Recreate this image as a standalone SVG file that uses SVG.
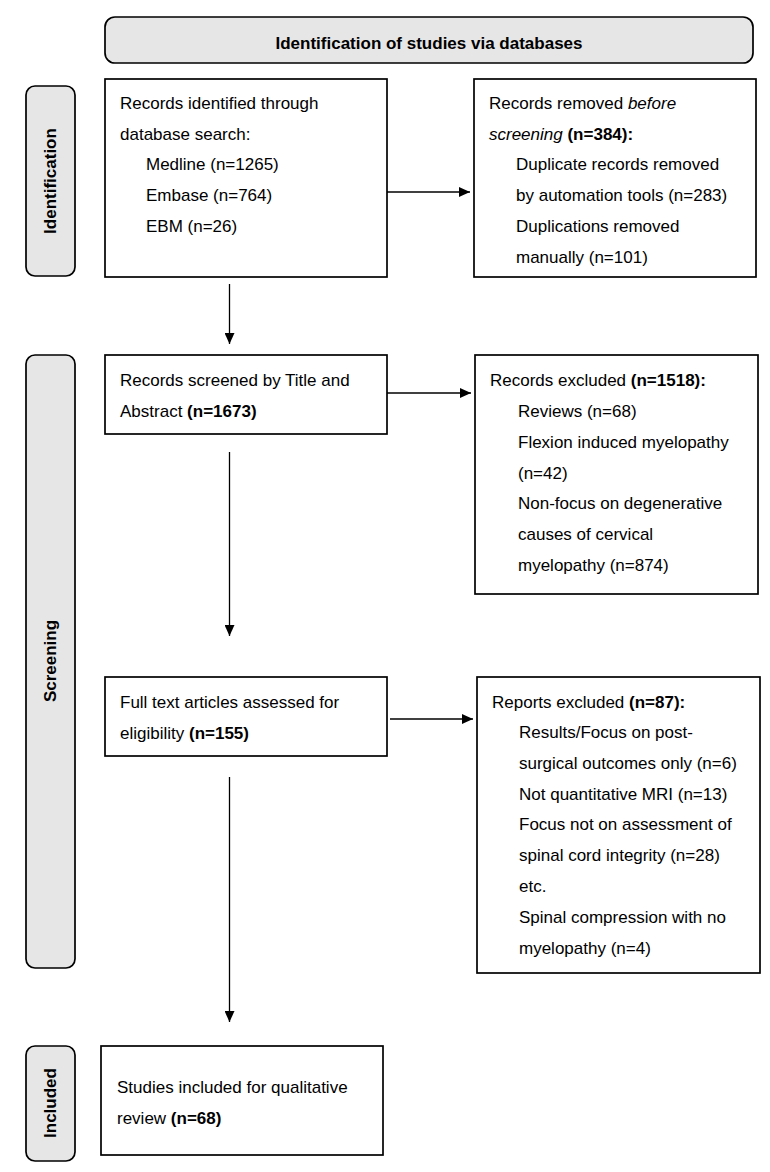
<svg xmlns="http://www.w3.org/2000/svg" width="770" height="1172" viewBox="0 0 770 1172">
<style>
  text { font-family: "Liberation Sans", Arial, sans-serif; font-size: 17px; fill: #000; }
  .b { font-weight: bold; }
  .i { font-style: italic; }
  .box { fill: #fff; stroke: #000; stroke-width: 1.7; }
  .lab { fill: #e6e6e6; stroke: #000; stroke-width: 1.7; }
  .conn { stroke: #000; stroke-width: 1.3; fill: none; marker-end: url(#ah); }
</style>
<defs>
  <marker id="ah" viewBox="0 0 11 10" refX="11" refY="5" markerWidth="11" markerHeight="10" markerUnits="userSpaceOnUse" orient="auto">
    <path d="M0,0 L11,5 L0,10 Z" fill="#000"/>
  </marker>
</defs>
<rect width="770" height="1172" fill="#fff"/>

<g id="header">
  <rect class="lab" x="105" y="17" width="648" height="46" rx="10"/>
  <text class="b" x="429" y="49" text-anchor="middle">Identification of studies via databases</text>
</g>

<g id="label-identification">
  <rect class="lab" x="26" y="86" width="49" height="190" rx="9"/>
  <text class="b" transform="translate(56,181) rotate(-90)" text-anchor="middle">Identification</text>
</g>
<g id="label-screening">
  <rect class="lab" x="26" y="355" width="49" height="613" rx="9"/>
  <text class="b" transform="translate(56,661) rotate(-90)" text-anchor="middle">Screening</text>
</g>
<g id="label-included">
  <rect class="lab" x="26" y="1046" width="49" height="115" rx="9"/>
  <text class="b" transform="translate(56,1103) rotate(-90)" text-anchor="middle">Included</text>
</g>

<g id="identified">
  <rect class="box" x="105" y="79" width="282" height="198"/>
  <text x="120" y="109">Records identified through</text>
  <text x="120" y="140">database search:</text>
  <text x="146" y="170">Medline (n=1265)</text>
  <text x="146" y="201">Embase (n=764)</text>
  <text x="146" y="232">EBM (n=26)</text>
</g>

<g id="removed">
  <rect class="box" x="474" y="79" width="282" height="198"/>
  <text x="489" y="109">Records removed <tspan class="i">before</tspan></text>
  <text x="489" y="140"><tspan class="i">screening</tspan> <tspan class="b">(n=384):</tspan></text>
  <text x="516" y="170">Duplicate records removed</text>
  <text x="516" y="201">by automation tools (n=283)</text>
  <text x="516" y="232">Duplications removed</text>
  <text x="516" y="263">manually (n=101)</text>
</g>

<g id="screened">
  <rect class="box" x="105" y="355" width="282" height="79"/>
  <text x="120" y="386">Records screened by Title and</text>
  <text x="120" y="417">Abstract <tspan class="b">(n=1673)</tspan></text>
</g>

<g id="excluded">
  <rect class="box" x="475" y="355" width="283" height="239"/>
  <text x="490" y="386">Records excluded <tspan class="b">(n=1518):</tspan></text>
  <text x="518" y="417">Reviews (n=68)</text>
  <text x="518" y="448">Flexion induced myelopathy</text>
  <text x="518" y="479">(n=42)</text>
  <text x="518" y="509">Non-focus on degenerative</text>
  <text x="518" y="540">causes of cervical</text>
  <text x="518" y="571">myelopathy (n=874)</text>
</g>

<g id="fulltext">
  <rect class="box" x="105" y="677" width="282" height="79"/>
  <text x="120" y="708">Full text articles assessed for</text>
  <text x="120" y="739">eligibility <tspan class="b">(n=155)</tspan></text>
</g>

<g id="reports-excluded">
  <rect class="box" x="477" y="677" width="283" height="296"/>
  <text x="492" y="708">Reports excluded <tspan class="b">(n=87):</tspan></text>
  <text x="519" y="738">Results/Focus on post-</text>
  <text x="519" y="769">surgical outcomes only (n=6)</text>
  <text x="519" y="800">Not quantitative MRI (n=13)</text>
  <text x="519" y="830">Focus not on assessment of</text>
  <text x="519" y="861">spinal cord integrity (n=28)</text>
  <text x="519" y="892">etc.</text>
  <text x="519" y="923">Spinal compression with no</text>
  <text x="519" y="954">myelopathy (n=4)</text>
</g>

<g id="included">
  <rect class="box" x="101" y="1046" width="282" height="109"/>
  <text x="117" y="1093">Studies included for qualitative</text>
  <text x="117" y="1124">review <tspan class="b">(n=68)</tspan></text>
</g>

<g id="connectors">
  <line class="conn" x1="387" y1="192" x2="470" y2="192"/>
  <line class="conn" x1="229.5" y1="284" x2="229.5" y2="344"/>
  <line class="conn" x1="387" y1="393" x2="471" y2="393"/>
  <line class="conn" x1="229.5" y1="452" x2="229.5" y2="636"/>
  <line class="conn" x1="390" y1="719" x2="473" y2="719"/>
  <line class="conn" x1="229.5" y1="777" x2="229.5" y2="1022"/>
</g>
</svg>
